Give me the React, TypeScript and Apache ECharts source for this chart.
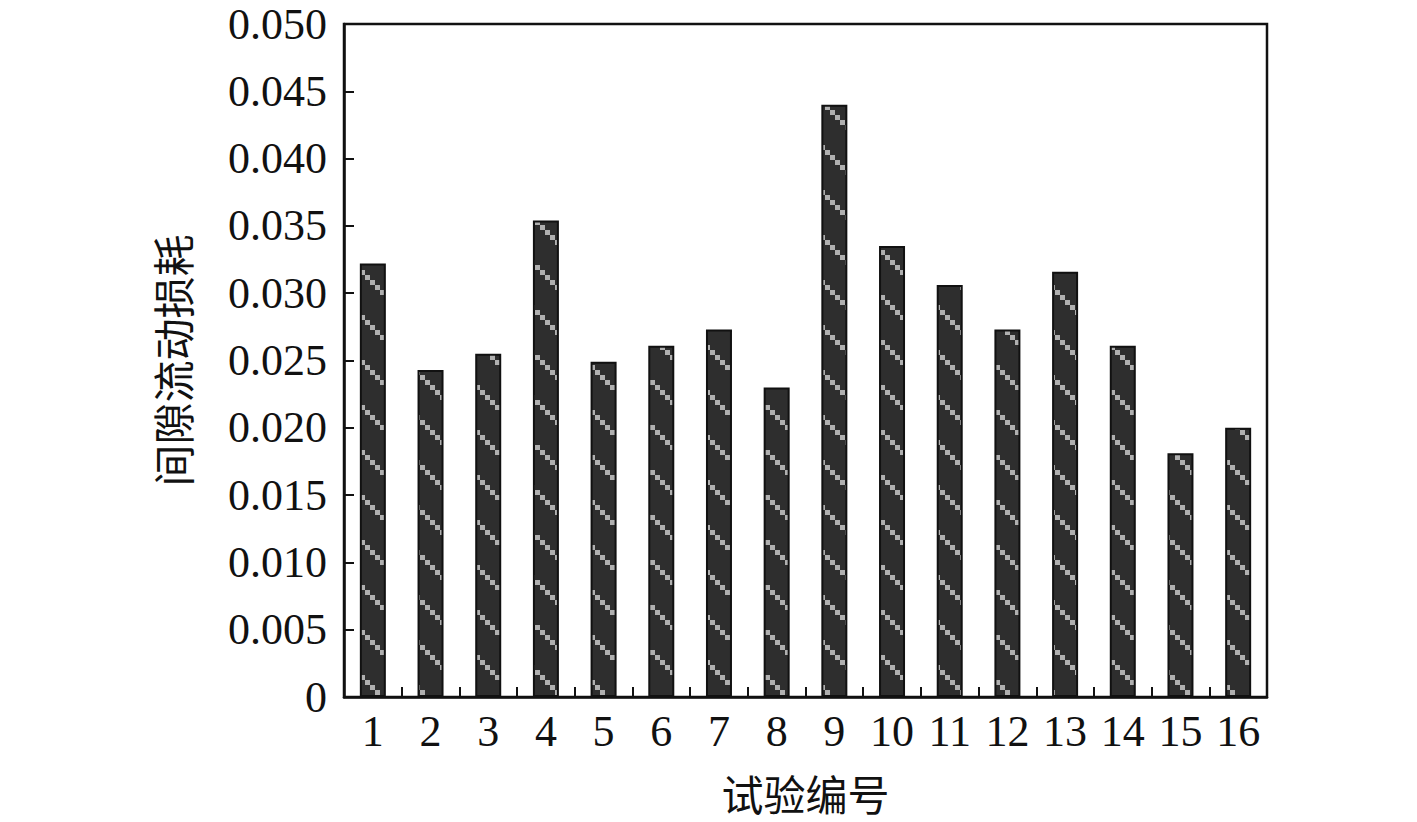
import React, { useEffect, useRef } from "react";
import * as echarts from "echarts";

const categories = ["1", "2", "3", "4", "5", "6", "7", "8", "9", "10", "11", "12", "13", "14", "15", "16"];
const lossValues = [0.0322, 0.0243, 0.0255, 0.0354, 0.0249, 0.0261, 0.0273, 0.023, 0.044, 0.0335, 0.0306, 0.0273, 0.0316, 0.0261, 0.0181, 0.02];
const yAxisName = "间隙流动损耗";
const xAxisName = "试验编号";

function makePattern(): string {
  const size = 45;
  const c = document.createElement("canvas");
  c.width = size;
  c.height = size;
  const ctx = c.getContext("2d")!;
  ctx.fillStyle = "#2e2e2e";
  ctx.fillRect(0, 0, size, size);
  ctx.fillStyle = "#b0b0b0";
  for (let i = -5; i < size + 5; i += 5) {
    ctx.fillRect(i, i, 5, 5);
  }
  return c.toDataURL();
}

export default function App() {
  const ref = useRef<HTMLDivElement>(null);
  useEffect(() => {
    if (!ref.current) return;
    const chart = echarts.init(ref.current, undefined, { renderer: "svg" });
    const pattern = makePattern();
    const serif = "'Liberation Serif', 'Times New Roman', serif";
    const cjk = "'Noto Sans CJK SC', sans-serif";
    chart.setOption({
      animation: false,
      backgroundColor: "#ffffff",
      grid: {
        left: 344,
        top: 24,
        width: 923,
        height: 673,
        show: true,
        borderColor: "#111",
        borderWidth: 2.5,
        backgroundColor: "transparent",
      },
      xAxis: {
        type: "category",
        data: categories,
        boundaryGap: true,
        name: xAxisName,
        nameLocation: "middle",
        nameGap: 74,
        nameTextStyle: { fontFamily: cjk, fontSize: 42, color: "#111" },
        axisLine: { show: true, lineStyle: { color: "#111", width: 2.5 } },
        axisTick: { show: true, inside: true, length: 10, lineStyle: { color: "#111", width: 2 } },
        axisLabel: { fontFamily: serif, fontSize: 44, color: "#111", margin: 12 },
        splitLine: { show: false },
      },
      yAxis: {
        type: "value",
        min: 0,
        max: 0.05,
        interval: 0.005,
        name: yAxisName,
        nameLocation: "middle",
        nameGap: 152,
        nameTextStyle: { fontFamily: cjk, fontSize: 42, color: "#111" },
        axisLine: { show: true, lineStyle: { color: "#111", width: 2.5 } },
        axisTick: { show: true, inside: true, length: 10, lineStyle: { color: "#111", width: 2 } },
        axisLabel: {
          fontFamily: serif,
          fontSize: 44,
          color: "#111",
          margin: 17,
          formatter: (v: number) => (v === 0 ? "0" : v.toFixed(3)),
        },
        splitLine: { show: false },
      },
      series: [
        {
          type: "bar",
          data: lossValues,
          barWidth: 26,
          itemStyle: {
            color: { image: pattern, repeat: "repeat" },
            borderColor: "#111",
            borderWidth: 2,
          },
        },
      ],
    });
    return () => chart.dispose();
  }, []);
  return (
    <div
      ref={ref}
      style={{ position: "fixed", left: 0, top: 0, width: 1417, height: 822 }}
    />
  );
}
